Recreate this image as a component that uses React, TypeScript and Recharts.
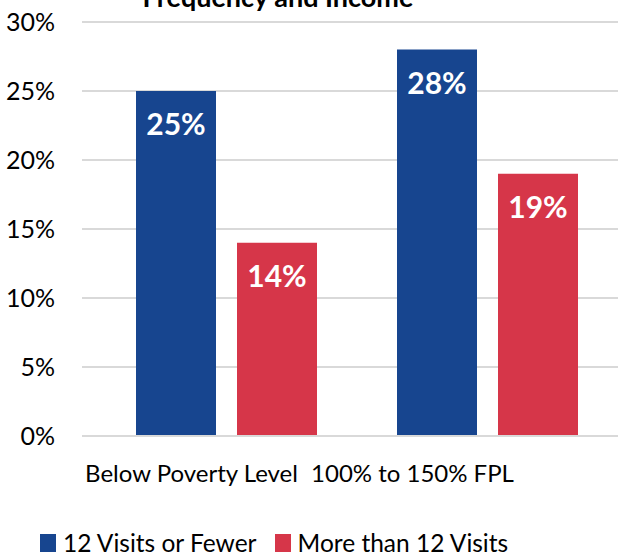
import React from "react"
import {
  BarChart, Bar, XAxis, YAxis, CartesianGrid, LabelList
} from "recharts"

const categories = ["Below Poverty Level", "100% to 150% FPL"]
const fewerVisits = [25, 28]
const moreVisits = [14, 19]
const yTicks = [0, 5, 10, 15, 20, 25, 30]

const series = [
  { key: "fewer", name: "12 Visits or Fewer", color: "#17458F" },
  { key: "more", name: "More than 12 Visits", color: "#D63649" },
]

const data = categories.map((name, i) => ({
  name,
  fewer: fewerVisits[i],
  more: moreVisits[i],
}))

const font = "Lato, 'Open Sans', sans-serif"

// category labels in the original sit left of the bar groups
const labelShift = [-35, -75]

function CategoryTick({ x, y, payload, index }: any) {
  return (
    <text x={x + (labelShift[index] ?? 0)} y={y} dy={16} textAnchor="middle"
      fill="#000" fontSize={24} fontFamily={font}>
      {payload.value}
    </text>
  )
}

export default function App() {
  return (
    <div style={{ position: "absolute", left: 0, top: 0, width: 618, height: 558, fontFamily: font, overflow: "hidden" }}>
      <div style={{
        position: "absolute", top: -20, left: 0, width: 556, textAlign: "center",
        fontSize: 27, fontWeight: 700, color: "#000",
      }}>
        Frequency and Income
      </div>
      <BarChart
        width={618}
        height={558}
        data={data}
        margin={{ top: 22, right: 0, bottom: 62, left: 0 }}
        barSize={80}
        barGap={21}
      >
        <CartesianGrid vertical={false} stroke="#d9d9d9" strokeWidth={2} />
        <XAxis
          dataKey="name"
          height={60}
          padding={{ left: 14, right: 0 }}
          axisLine={{ stroke: "#d9d9d9", strokeWidth: 2 }}
          tickLine={false}
          tickSize={0}
          tickMargin={30}
          tick={<CategoryTick />}
        />
        <YAxis
          width={82}
          domain={[0, 30]}
          ticks={yTicks}
          axisLine={false}
          tickLine={false}
          tickSize={0}
          tickMargin={27}
          tickFormatter={(v) => `${v}%`}
          tick={{ fill: "#000", fontSize: 25, fontFamily: font }}
        />
        {series.map((s) => (
          <Bar key={s.key} dataKey={s.key} name={s.name} fill={s.color} isAnimationActive={false}>
            <LabelList dataKey={s.key} position="insideTop" offset={23} fill="#fff" fontSize={30}
              fontWeight={700} fontFamily={font} formatter={(v: any) => `${v}%`} />
          </Bar>
        ))}
      </BarChart>
      <div style={{ position: "absolute", top: 528, left: 40, display: "flex", alignItems: "center", fontSize: 24.5, color: "#000", whiteSpace: "nowrap" }}>
        {series.map((s, i) => (
          <div key={s.key} style={{ display: "flex", alignItems: "center", marginRight: i === 0 ? 18 : 0 }}>
            <span style={{ display: "inline-block", width: 16, height: 18, background: s.color, marginRight: 7 }} />
            <span>{s.name}</span>
          </div>
        ))}
      </div>
    </div>
  )
}
